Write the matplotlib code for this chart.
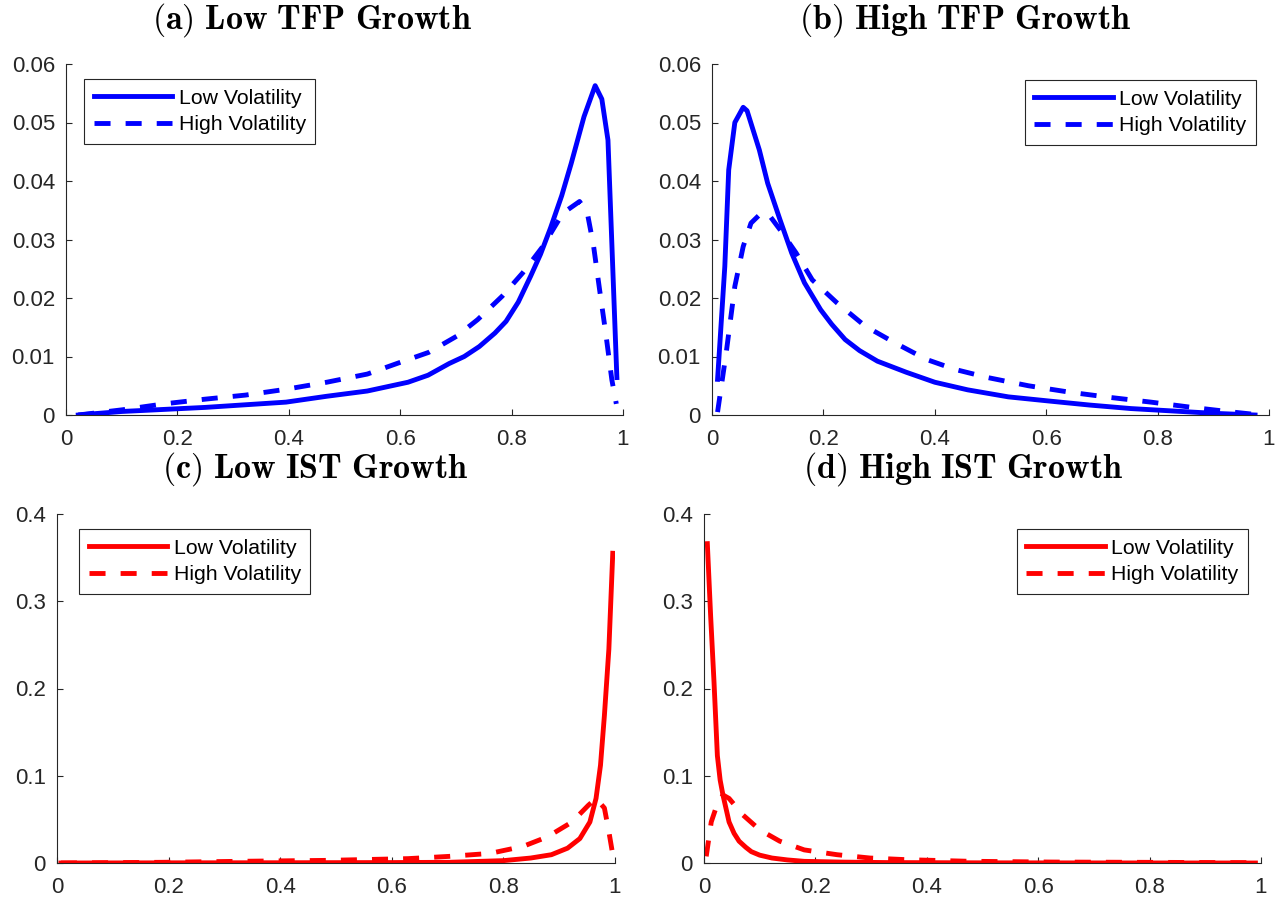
import matplotlib
matplotlib.use("Agg")
import matplotlib.pyplot as plt
from matplotlib.ticker import FormatStrFormatter

plt.rcParams['font.family'] = ['Liberation Sans', 'DejaVu Sans']
plt.rcParams['mathtext.fontset'] = 'cm'

# ---------------- data ----------------
titles = ["(a) Low TFP Growth", "(b) High TFP Growth",
          "(c) Low IST Growth", "(d) High IST Growth"]
legend_labels = ["Low Volatility", "High Volatility"]

a_low_x = [0.022, 0.10, 0.25, 0.395, 0.468, 0.541, 0.614, 0.65, 0.688, 0.715, 0.742, 0.77, 0.79,
           0.812, 0.834, 0.852, 0.87, 0.89, 0.907, 0.93, 0.95, 0.962, 0.973, 0.989]
a_low_y = [0.0, 0.0006, 0.0013, 0.0022, 0.0032, 0.0041, 0.0056, 0.0068, 0.0088, 0.0100, 0.0117,
           0.0140, 0.0160, 0.0193, 0.0237, 0.0275, 0.032, 0.0375, 0.043, 0.051, 0.0563, 0.054,
           0.047, 0.0064]
a_high_x = [0.022, 0.102, 0.176, 0.249, 0.322, 0.395, 0.468, 0.541, 0.60, 0.651, 0.702, 0.739,
            0.783, 0.82, 0.856, 0.892, 0.922, 0.936, 0.947, 0.958, 0.969, 0.98, 0.988]
a_high_y = [0.0, 0.0009, 0.0019, 0.0027, 0.0034, 0.0044, 0.0056, 0.007, 0.009, 0.0107, 0.0135,
            0.0163, 0.0203, 0.0243, 0.0288, 0.0345, 0.0365, 0.0345, 0.029, 0.0214, 0.014, 0.006, 0.0019]

b_low_x = [0.01, 0.023, 0.03, 0.041, 0.056, 0.063, 0.085, 0.10, 0.122, 0.143, 0.166, 0.195,
           0.215, 0.239, 0.265, 0.297, 0.349, 0.40, 0.459, 0.532, 0.604, 0.678, 0.752, 0.825,
           0.898, 0.975]
b_low_y = [0.0061, 0.0254, 0.0419, 0.050, 0.0526, 0.052, 0.0453, 0.0396, 0.0334, 0.0277, 0.0226,
           0.018, 0.0155, 0.0129, 0.0110, 0.0092, 0.0073, 0.0056, 0.0043, 0.0031, 0.0024, 0.0017,
           0.0011, 0.0007, 0.0003, 0.0]
b_high_x = [0.01, 0.026, 0.041, 0.056, 0.07, 0.085, 0.10, 0.122, 0.151, 0.18, 0.224, 0.275,
            0.327, 0.385, 0.436, 0.495, 0.568, 0.642, 0.715, 0.788, 0.862, 0.935, 0.975]
b_high_y = [0.0005, 0.011, 0.022, 0.0288, 0.0328, 0.0342, 0.0345, 0.0317, 0.0277, 0.0231, 0.0192,
            0.0152, 0.0124, 0.0095, 0.0078, 0.0064, 0.005, 0.0039, 0.003, 0.0022, 0.0013, 0.0005, 0.0001]

c_low_x = [0.007, 0.2, 0.4, 0.6, 0.703, 0.80, 0.849, 0.886, 0.915, 0.937, 0.955, 0.966, 0.974,
           0.981, 0.989, 0.996]
c_low_y = [0.0, 0.0002, 0.0003, 0.0005, 0.0008, 0.0027, 0.0057, 0.0095, 0.017, 0.028, 0.047,
           0.074, 0.112, 0.169, 0.245, 0.355]
c_high_x = [0.007, 0.19, 0.336, 0.483, 0.629, 0.703, 0.776, 0.835, 0.879, 0.923, 0.952, 0.966,
            0.981, 0.989, 0.996]
c_high_y = [0.0, 0.0008, 0.002, 0.003, 0.005, 0.0076, 0.011, 0.019, 0.030, 0.047, 0.066, 0.074,
            0.063, 0.036, 0.0095]

d_low_x = [0.006, 0.012, 0.018, 0.024, 0.029, 0.034, 0.045, 0.054, 0.063, 0.075, 0.085, 0.10,
           0.122, 0.15, 0.18, 0.25, 0.327, 0.5, 0.7, 0.99]
d_low_y = [0.366, 0.282, 0.207, 0.123, 0.095, 0.078, 0.047, 0.034, 0.025, 0.018, 0.013, 0.009,
           0.0057, 0.0035, 0.0019, 0.001, 0.0005, 0.0002, 0.0001, 0.0]
d_high_x = [0.004, 0.013, 0.023, 0.034, 0.045, 0.07, 0.10, 0.136, 0.18, 0.239, 0.298, 0.364,
            0.474, 0.62, 0.767, 0.987]
d_high_y = [0.0076, 0.047, 0.066, 0.078, 0.074, 0.055, 0.038, 0.025, 0.015, 0.0095, 0.0057,
            0.0038, 0.002, 0.0011, 0.0008, 0.0004]

x_ticks = [0, 0.2, 0.4, 0.6, 0.8, 1.0]
y_ticks_tfp = [0, 0.01, 0.02, 0.03, 0.04, 0.05, 0.06]
y_ticks_ist = [0, 0.1, 0.2, 0.3, 0.4]

# ---------------- figure ----------------
W, H = 1281, 906
fig = plt.figure(figsize=(W / 100, H / 100), dpi=100)

def px_axes(l, r, t, b):
    return fig.add_axes([l / W, 1 - b / H, (r - l) / W, (b - t) / H])

panels = [
    dict(box=(66, 623, 64, 415), lo=(a_low_x, a_low_y), hi=(a_high_x, a_high_y), col='#0000ff',
         yt=y_ticks_tfp, ylim=0.06, leg='upper left', legxy=(18, 15), tx=312, ty=20, title=titles[0]),
    dict(box=(712, 1269, 64, 415), lo=(b_low_x, b_low_y), hi=(b_high_x, b_high_y), col='#0000ff',
         yt=y_ticks_tfp, ylim=0.06, leg='upper right', legxy=(13, 16), tx=965, ty=20, title=titles[1]),
    dict(box=(57, 615, 514, 863), lo=(c_low_x, c_low_y), hi=(c_high_x, c_high_y), col='#ff0000',
         yt=y_ticks_ist, ylim=0.4, leg='upper left', legxy=(22, 15), tx=315, ty=469, title=titles[2]),
    dict(box=(704, 1261, 514, 863), lo=(d_low_x, d_low_y), hi=(d_high_x, d_high_y), col='#ff0000',
         yt=y_ticks_ist, ylim=0.4, leg='upper right', legxy=(13, 15), tx=963, ty=469, title=titles[3]),
]

axcol = '#262626'
LW = 3.5
for p in panels:
    l, r, t, b = p['box']
    ax = px_axes(l, r, t, b)
    ax.plot(p['lo'][0], p['lo'][1], color=p['col'], lw=LW, label=legend_labels[0])
    ax.plot(p['hi'][0], p['hi'][1], color=p['col'], lw=LW, linestyle=(0, (3.3, 3.1)),
            label=legend_labels[1])
    ax.set_xlim(0, 1)
    ax.set_ylim(0, p['ylim'])
    ax.set_xticks(x_ticks)
    ax.set_yticks(p['yt'])
    ax.xaxis.set_major_formatter(FormatStrFormatter('%g'))
    ax.yaxis.set_major_formatter(FormatStrFormatter('%g'))
    for s in ['top', 'right']:
        ax.spines[s].set_visible(False)
    for s in ['left', 'bottom']:
        ax.spines[s].set_color(axcol)
        ax.spines[s].set_linewidth(0.8)
    ax.tick_params(direction='in', length=4, width=0.8, color=axcol, labelcolor=axcol,
                   labelsize=16)
    ax.tick_params(axis='x', pad=10)
    ax.tick_params(axis='y', pad=8)
    aw, ah = r - l, b - t
    dx, dy = p['legxy']
    if p['leg'] == 'upper left':
        anchor = (dx / aw, 1 - dy / ah)
    else:
        anchor = (1 - dx / aw, 1 - dy / ah)
    leg = ax.legend(loc=p['leg'], bbox_to_anchor=anchor, borderaxespad=0, fontsize=15.3,
                    fancybox=False, framealpha=1, edgecolor=axcol, handlelength=3.7,
                    handletextpad=0.3, labelspacing=0.35, borderpad=0.45)
    leg.get_frame().set_linewidth(0.8)
    words = p['title'].replace(' ', r'\ ')
    fig.text(p['tx'] / W, 1 - p['ty'] / H, r'$\mathbf{' + words + '}$', ha='center', va='center',
             fontsize=24.5, color='black')

fig.savefig('out.png', dpi=100)
